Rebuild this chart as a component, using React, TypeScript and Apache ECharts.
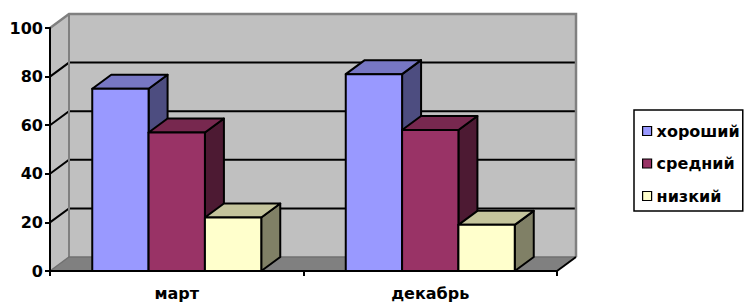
import React, { useEffect, useRef } from "react";
import * as echarts from "echarts";

const categories = ["март", "декабрь"];
const seriesNames = ["хороший", "средний", "низкий"];
const goodValues = [75, 81];
const midValues = [57, 58];
const lowValues = [22, 19];
const yTicks = [0, 20, 40, 60, 80, 100];

const FONT = "'DejaVu Sans', sans-serif";
const DX = 19;
const DY = -14;
const palette = [
  { front: "#9999FF", top: "#7777C4", side: "#4D4D80" },
  { front: "#993366", top: "#77284F", side: "#4D1A33" },
  { front: "#FFFFCC", top: "#C4C49C", side: "#808066" },
];

export default function App() {
  const ref = useRef<HTMLDivElement>(null);
  useEffect(() => {
    if (!ref.current) return;
    const chart = echarts.init(ref.current, null, { renderer: "svg" });
    const allValues = [goodValues, midValues, lowValues];

    const background = {
      type: "custom",
      name: "__bg",
      silent: true,
      z: 1,
      data: [[0, 0]],
      renderItem: (params: any, api: any) => {
        const cs = params.coordSys;
        const x0 = cs.x;
        const x1 = cs.x + cs.width;
        const yT = cs.y;
        const yB = cs.y + cs.height;
        const children: any[] = [];
        children.push({
          type: "polygon",
          shape: { points: [[x0 + DX, yT + DY], [x1 + DX, yT + DY], [x1 + DX, yB + DY], [x0 + DX, yB + DY]] },
          style: { fill: "#C0C0C0" },
        });
        children.push({
          type: "polygon",
          shape: { points: [[x0, yT], [x0 + DX, yT + DY], [x0 + DX, yB + DY], [x0, yB]] },
          style: { fill: "#C0C0C0" },
        });
        children.push({
          type: "polygon",
          shape: { points: [[x0, yB], [x0 + DX, yB + DY], [x1 + DX, yB + DY], [x1, yB]] },
          style: { fill: "#808080" },
        });
        for (let i = 1; i < yTicks.length - 1; i++) {
          const y = api.coord([0, yTicks[i]])[1];
          children.push({
            type: "polyline",
            shape: { points: [[x0, y], [x0 + DX, y + DY], [x1 + DX, y + DY]] },
            style: { stroke: "#000", lineWidth: 2, fill: null },
          });
        }
        children.push({
          type: "polyline",
          shape: { points: [[x0, yT], [x0 + DX, yT + DY], [x1 + DX, yT + DY], [x1 + DX, yB + DY]] },
          style: { stroke: "#808080", lineWidth: 2.5, fill: null },
        });
        children.push({
          type: "line",
          shape: { x1: x0 + DX, y1: yT + DY, x2: x0 + DX, y2: yB + DY },
          style: { stroke: "#808080", lineWidth: 2 },
        });
        children.push({
          type: "polyline",
          shape: { points: [[x0, yB], [x0 + DX, yB + DY], [x1 + DX, yB + DY]] },
          style: { stroke: "#707070", lineWidth: 1.5, fill: null },
        });
        children.push({
          type: "line",
          shape: { x1: x1, y1: yB, x2: x1 + DX, y2: yB + DY },
          style: { stroke: "#000", lineWidth: 2 },
        });
        return { type: "group", children };
      },
    };

    const bars = seriesNames.map((name, s) => ({
      type: "custom",
      name,
      z: 2,
      itemStyle: { color: palette[s].front },
      data: allValues[s].map((v, i) => [i, v]),
      renderItem: (params: any, api: any) => {
        const ci = api.value(0);
        const v = api.value(1);
        const top = api.coord([ci, v]);
        const base = api.coord([ci, 0]);
        const band = api.size([1, 0])[0];
        const bw = band / 4.5;
        const xL = top[0] + (s - 1.5) * bw;
        const xR = xL + bw;
        const yTop = top[1];
        const yBase = base[1];
        const line = { stroke: "#000", lineWidth: 2, lineJoin: "round" };
        return {
          type: "group",
          children: [
            {
              type: "polygon",
              shape: { points: [[xR, yTop], [xR + DX, yTop + DY], [xR + DX, yBase + DY], [xR, yBase]] },
              style: { fill: palette[s].side, ...line },
            },
            {
              type: "polygon",
              shape: { points: [[xL, yTop], [xL + DX, yTop + DY], [xR + DX, yTop + DY], [xR, yTop]] },
              style: { fill: palette[s].top, ...line },
            },
            {
              type: "rect",
              shape: { x: xL, y: yTop, width: bw, height: yBase - yTop },
              style: { fill: palette[s].front, ...line },
            },
          ],
        };
      },
    }));

    chart.setOption({
      animation: false,
      backgroundColor: "#fff",
      grid: { left: 50, right: 191, top: 28, bottom: 31 },
      legend: {
        data: seriesNames,
        orient: "vertical",
        left: 634,
        top: 110,
        icon: "rect",
        itemWidth: 9,
        itemHeight: 9,
        itemGap: 14.5,
        itemStyle: { borderColor: "#000", borderWidth: 1.2 },
        textStyle: { fontFamily: FONT, fontWeight: "bold", fontSize: 16, color: "#000", lineHeight: 18 },
        borderColor: "#000",
        borderWidth: 1.5,
        padding: [12, 3, 6, 8],
        backgroundColor: "#fff",
        selectedMode: false,
      },
      xAxis: {
        type: "category",
        data: categories,
        z: 10,
        axisLine: { show: true, lineStyle: { color: "#000", width: 2 } },
        axisTick: { show: true, length: 5, lineStyle: { color: "#000", width: 2 } },
        axisLabel: { margin: 14, fontFamily: FONT, fontWeight: "bold", fontSize: 16, color: "#000" },
        splitLine: { show: false },
      },
      yAxis: {
        type: "value",
        min: yTicks[0],
        max: yTicks[yTicks.length - 1],
        interval: yTicks[1] - yTicks[0],
        z: 10,
        axisLine: { show: true, lineStyle: { color: "#000", width: 2 } },
        axisTick: { show: true, length: 5, lineStyle: { color: "#000", width: 2 } },
        axisLabel: { margin: 7, fontFamily: FONT, fontWeight: "bold", fontSize: 16, color: "#000" },
        splitLine: { show: false },
      },
      series: [background, ...bars],
    });
    return () => chart.dispose();
  }, []);
  return (
    <div
      ref={ref}
      style={{ position: "fixed", left: 0, top: 0, width: 748, height: 302, background: "#fff" }}
    />
  );
}
